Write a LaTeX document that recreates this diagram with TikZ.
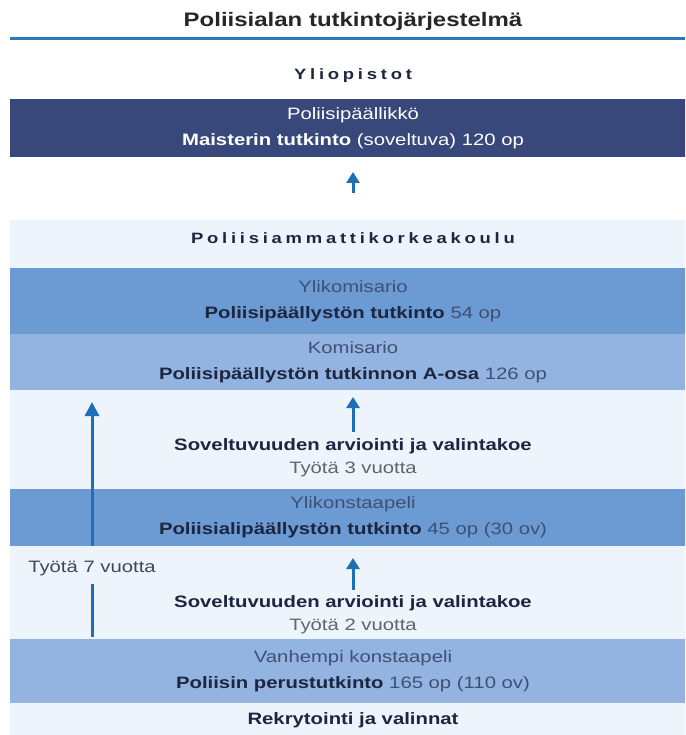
\documentclass[tikz,border=0pt]{standalone}
\usepackage{fontspec}
\setmainfont{Liberation Sans}[FakeStretch=1.23]
\usetikzlibrary{arrows.meta}

\definecolor{navyband}{HTML}{39487B}
\definecolor{midband}{HTML}{6C9AD3}
\definecolor{lightband}{HTML}{93B4E0}
\definecolor{paleback}{HTML}{EEF4FB}
\definecolor{arrowblue}{HTML}{1F6FB6}
\definecolor{rulecol}{HTML}{2B76BC}
\definecolor{darktext}{HTML}{1C2640}
\definecolor{slatetext}{HTML}{3F5075}
\definecolor{graytext}{HTML}{5F646E}

\begin{document}
\begin{tikzpicture}[x=1pt,y=-1pt,
    band/.style={minimum width=686pt, inner sep=0pt, outer sep=0pt, align=center,
      text=slatetext, font=\fontsize{16.5}{26}\selectfont},
    spaced/.style={anchor=base, text=darktext,
      font=\fontsize{15}{17}\selectfont\bfseries\addfontfeature{LetterSpace=25}},
    steptext/.style={inner sep=0pt, align=center, text=graytext, font=\fontsize{16.5}{23}\selectfont},
    arr/.style={arrowblue, line width=3pt, -{Triangle[width=13pt,length=11pt]}}
  ]
  \useasboundingbox (0,0) rectangle (685,735);
  \clip (0,0) rectangle (685,735);
  \fill[white] (0,0) rectangle (685,735);
  \fill[paleback] (10,220) rectangle (696,735);

  \node[anchor=base, text=black!85, font=\fontsize{19.5}{22}\selectfont\bfseries] (title) at (353,27) {Poliisialan tutkintojärjestelmä};
  \draw[rulecol, line width=3pt] (10,39) -- (685,39);

  \node[spaced] (yo) at (353,80) {Yliopistot};
  \node[band, fill=navyband, text=white, minimum height=58pt] (paall) at (353,128)
    {Poliisipäällikkö\\\textbf{Maisterin tutkinto} (soveltuva) 120 op};

  \coordinate (amktop) at (353,220);
  \node[spaced] (amk) at (353,243) {Poliisiammattikorkeakoulu};
  \node[band, fill=midband, minimum height=66pt] (ylikom) at (353,301)
    {Ylikomisario\\\textbf{\color{darktext}Poliisipäällystön tutkinto} 54 op};
  \node[band, fill=lightband, minimum height=56pt] (komis) at (353,362)
    {Komisario\\\textbf{\color{darktext}Poliisipäällystön tutkinnon A-osa} 126 op};

  \node[steptext] (sov3) at (353,458)
    {\textbf{\color{darktext}Soveltuvuuden arviointi ja valintakoe}\\Työtä 3 vuotta};
  \node[band, fill=midband, minimum height=57pt] (ylikon) at (353,517.5)
    {Ylikonstaapeli\\\textbf{\color{darktext}Poliisialipäällystön tutkinto} 45 op (30 ov)};

  \node[inner sep=0pt, minimum height=30pt, text=darktext!85, font=\fontsize{16.5}{20}\selectfont] (tyo7) at (92,569) {Työtä 7 vuotta};
  \node[steptext] (sov2) at (353,615)
    {\textbf{\color{darktext}Soveltuvuuden arviointi ja valintakoe}\\Työtä 2 vuotta};
  \node[band, fill=lightband, minimum height=64pt] (vanh) at (353,671)
    {Vanhempi konstaapeli\\\textbf{\color{darktext}Poliisin perustutkinto} 165 op (110 ov)};
  \node[anchor=base, text=darktext, font=\fontsize{16.5}{20}\selectfont\bfseries] (rekry) at (353,724) {Rekrytointi ja valinnat};

  \draw[arr, shorten <=27pt, shorten >=15pt] (amktop) -- (paall.south);
  \draw[arr, shorten <=7pt, shorten >=7pt] (sov3.north) -- (komis.south);
  \draw[arr, shorten <=6pt, shorten >=12pt] (sov2.north) -- (ylikon.south);
  \draw[arr, -{Triangle[width=14pt,length=14pt]}, shorten >=12pt] (tyo7 |- ylikon.south) -- (tyo7 |- komis.south);
  \draw[arrowblue, line width=3pt, shorten >=2pt] (tyo7.south) -- (tyo7 |- vanh.north);
\end{tikzpicture}
\end{document}
